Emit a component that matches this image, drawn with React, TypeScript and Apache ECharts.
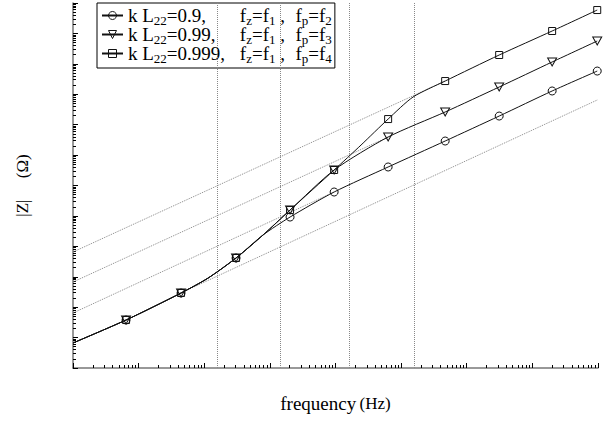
import React, { useEffect, useRef } from 'react';
import * as echarts from 'echarts';

const FONT = '"Liberation Serif", "Times New Roman", serif';

// frequency (Hz) and |Z| (Ω)
const freqCommon = [1, 6.43, 44.3, 114, 305, 787];
const zCommon = [6.64, 37.8, 292, 900, 4130, 23600];
const markCommon = [false, true, true, false, true, false];

const freqCircle = [2030, 9530, 63400, 469000, 3.12e6, 2.0e7, 9.73e7];
const zCircle = [91800, 611000, 4.06e6, 2.9e7, 1.92e8, 1.28e9, 5.79e9];
const markCircle = [true, true, true, true, true, true, true];

const freqTriangle = [2030, 9530, 63400, 469000, 3.12e6, 2.0e7, 9.73e7];
const zTriangle = [1.56e5, 3.23e6, 3.93e7, 2.61e8, 1.73e9, 1.15e10, 5.62e10];
const markTriangle = [true, true, true, true, true, true, true];

const freqSquare = [2030, 9530, 24500, 63400, 152000, 469000, 3.12e6, 2.0e7, 9.73e7];
const zSquare = [1.56e5, 3.23e6, 2.14e7, 1.53e8, 8.11e8, 2.72e9, 1.95e10, 1.2e11, 5.87e11];
const markSquare = [true, true, false, true, false, true, true, true, true];

// dotted asymptotes [f, |Z|]
const asymSquare = [[1, 6500], [469000, 2.72e9]];
const asymTriangle = [[1, 671], [63400, 3.93e7]];
const asymCircle = [[1, 64.3], [9530, 611000]];
const asymLow = [[60.8, 404], [9.73e7, 6.46e8]];

// characteristic frequencies f1..f4
const fLines = [157, 1430, 16100, 158000];
const fLabelZ = 4.54;

const xDecades = [1, 10, 100, 1e3, 1e4, 1e5, 1e6, 1e7, 1e8];
const yDecades = [1, 10, 100, 1e3, 1e4, 1e5, 1e6, 1e7, 1e8, 1e9, 1e10, 1e11, 1e12];
const minorOf = (decs: number[]) => {
  const out: number[] = [];
  for (let i = 0; i < decs.length - 1; i++) for (let m = 2; m <= 9; m++) out.push(m * decs[i]);
  return out;
};

const seriesNames = ['kL0.9', 'kL0.99', 'kL0.999'];
const legendTexts: Record<string, [string, string, string]> = {
  'kL0.9': ['0.9', '1', '2'],
  'kL0.99': ['0.99', '1', '3'],
  'kL0.999': ['0.999', '1', '4'],
};

const rich = {
  n: { fontFamily: FONT, fontSize: 19, color: '#000', lineHeight: 19.5 },
  s: { fontFamily: FONT, fontSize: 13, color: '#000', padding: [10, 0, 0, 0], lineHeight: 19.5 },
  c1: { fontFamily: FONT, fontSize: 19, color: '#000', width: 73, lineHeight: 19.5 },
  c2: { fontFamily: FONT, fontSize: 19, color: '#000', width: 20, lineHeight: 19.5 },
};

function build(freqs: number[], zs: number[], marks: boolean[]) {
  return freqs.map((f, i) => (marks[i] ? { value: [f, zs[i]] } : { value: [f, zs[i]], symbol: 'none' }));
}

export default function App() {
  const ref = useRef<HTMLDivElement>(null);
  useEffect(() => {
    if (!ref.current) return;
    const chart = echarts.init(ref.current, null, { renderer: 'svg' });
    const curveBase = {
      type: 'line',
      smooth: 0.25,
      showAllSymbol: true,
      symbolSize: 8,
      lineStyle: { color: '#111', width: 1 },
      itemStyle: { color: 'rgba(0,0,0,0)', borderColor: '#111', borderWidth: 1 },
      z: 5,
    };
    const dotted = {
      type: 'line',
      symbol: 'none',
      lineStyle: { color: '#888', width: 1, type: 'dotted' },
      silent: true,
      z: 2,
    };
    const option: any = {
      animation: false,
      backgroundColor: '#fff',
      grid: { left: 73, right: 7, top: 3, bottom: 58, outerBoundsMode: 'none', containLabel: false },
      legend: {
        data: seriesNames,
        orient: 'vertical',
        left: 97,
        top: 3,
        itemWidth: 21,
        itemHeight: 10,
        itemGap: -4,
        padding: [1, 3, 3, 4],
        borderColor: '#000',
        borderWidth: 1,
        backgroundColor: '#fff',
        selectedMode: false,
        itemStyle: { color: 'rgba(0,0,0,0)', borderColor: '#111', borderWidth: 1 },
        formatter: (name: string) => {
          const [k, z, p] = legendTexts[name];
          return `{n|k L}{s|22}{c1|=${k},}{n|f}{s|z}{n|=f}{s|${z}}{c2| ,}{n|f}{s|p}{n|=f}{s|${p}}`;
        },
        textStyle: { fontFamily: FONT, fontSize: 19, lineHeight: 19.5, color: '#000', rich },
      },
      xAxis: [
        {
          type: 'log', logBase: 10, min: 1, max: 1e8, position: 'bottom',
          name: '{a|frequency} {b|(Hz)}', nameLocation: 'middle', nameGap: 26,
          nameTextStyle: { rich: { a: { fontFamily: FONT, fontSize: 19, color: '#000' }, b: { fontFamily: FONT, fontSize: 17, color: '#000' } } },
          axisLine: { lineStyle: { color: '#777', width: 1.5 } },
          axisTick: { inside: true, length: 5, lineStyle: { color: '#000' }, customValues: xDecades },
          axisLabel: { show: false },
          splitLine: { show: false },
        },
        {
          type: 'log', logBase: 10, min: 1, max: 1e8, position: 'bottom',
          axisLine: { show: false },
          axisTick: { inside: true, length: 3, lineStyle: { color: '#000' }, customValues: minorOf(xDecades) },
          axisLabel: { show: false },
          splitLine: { show: false },
        },
      ],
      yAxis: [
        {
          type: 'log', logBase: 10, min: 1, max: 1e12, position: 'left',
          name: '|Z|     (Ω)', nameLocation: 'middle', nameGap: 42, nameRotate: 90,
          nameTextStyle: { fontFamily: FONT, fontSize: 17, color: '#000' },
          axisLine: { lineStyle: { color: '#777', width: 1.5 } },
          axisTick: { inside: true, length: 5, lineStyle: { color: '#000' }, customValues: yDecades },
          axisLabel: { show: false },
          splitLine: { show: false },
        },
        {
          type: 'log', logBase: 10, min: 1, max: 1e12, position: 'left',
          axisLine: { show: false },
          axisTick: { inside: true, length: 3, lineStyle: { color: '#000' }, customValues: minorOf(yDecades) },
          axisLabel: { show: false },
          splitLine: { show: false },
        },
      ],
      series: [
        { ...dotted, name: 'asymSq', data: asymSquare },
        { ...dotted, name: 'asymTri', data: asymTriangle },
        { ...dotted, name: 'asymCirc', data: asymCircle },
        { ...dotted, name: 'asymLow', data: asymLow },
        {
          type: 'scatter', name: 'fLabels', symbolSize: 1, itemStyle: { opacity: 0 }, silent: true, z: 3,
          data: fLines.map((f) => [f, fLabelZ]),
          label: {
            show: true, position: 'left', distance: 1,
            formatter: (p: any) => `{n|f}{s|${p.dataIndex + 1}}`,
            rich,
          },
          markLine: {
            silent: true, symbol: ['none', 'none'], label: { show: false },
            lineStyle: { color: '#888', width: 1, type: 'dotted' },
            data: fLines.map((f) => ({ xAxis: f })),
          },
        },
        {
          ...curveBase, name: 'kL0.999', symbol: 'rect', symbolSize: 7,
          data: build([...freqCommon, ...freqSquare], [...zCommon, ...zSquare], [...markCommon, ...markSquare]),
        },
        {
          ...curveBase, name: 'kL0.99', symbol: 'path://M0,0 L10,0 L5,9 Z', symbolSize: [9, 8],
          data: build([...freqCommon, ...freqTriangle], [...zCommon, ...zTriangle], [...markCommon, ...markTriangle]),
        },
        {
          ...curveBase, name: 'kL0.9', symbol: 'circle', symbolSize: 8,
          data: build([...freqCommon, ...freqCircle], [...zCommon, ...zCircle], [...markCommon, ...markCircle]),
        },
      ],
    };
    chart.setOption(option);
    return () => chart.dispose();
  }, []);
  return <div ref={ref} style={{ position: 'fixed', left: 0, top: 0, width: 605, height: 426 }} />;
}
